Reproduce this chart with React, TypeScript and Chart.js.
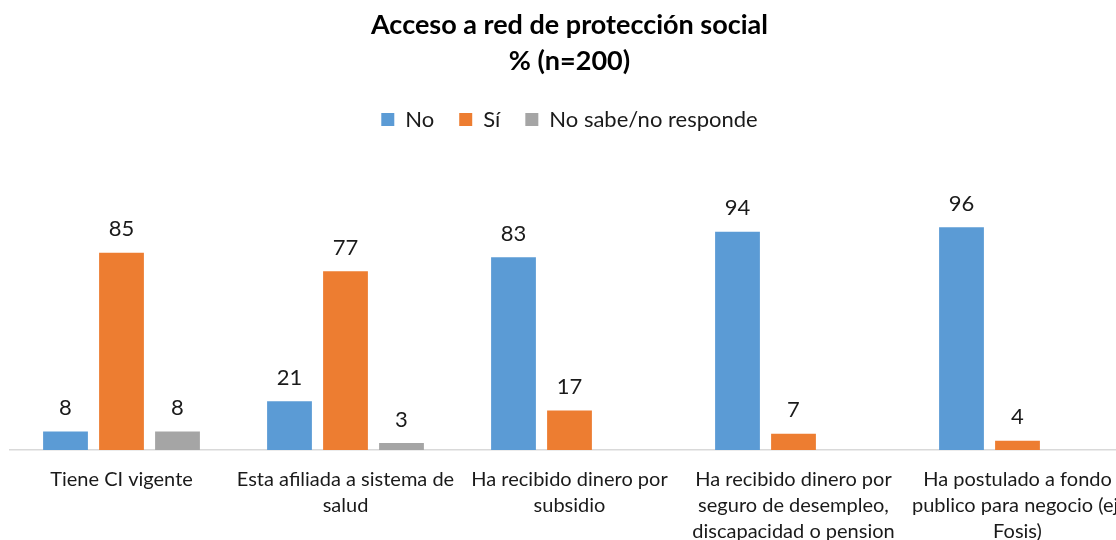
import React, { useEffect, useRef } from "react";
import { Chart, registerables } from "chart.js";

Chart.register(...registerables);

const titleLines = ["Acceso a red de protección social", "% (n=200)"];
const categories = [
  ["Tiene CI vigente"],
  ["Esta afiliada a sistema de", "salud"],
  ["Ha recibido dinero por", "subsidio"],
  ["Ha recibido dinero por", "seguro de desempleo,", "discapacidad o pension"],
  ["Ha postulado a fondo", "publico para negocio (ej.", "Fosis)"],
];
const seriesNames = ["No", "Sí", "No sabe/no responde"];
const noValues = [8, 21, 83, 94, 96];
const siValues = [85, 77, 17, 7, 4];
const nsnrValues: (number | null)[] = [8, 3, null, null, null];
const seriesColors = ["#5B9BD5", "#ED7D31", "#A5A5A5"];

const FONT = "Lato, 'Open Sans', sans-serif";
const TEXT = "#1a1a1a";

const CANVAS_W = 1160;
const CANVAS_H = 562;
const LEGEND_H = 88;

const valueLabels = {
  id: "valueLabels",
  afterDatasetsDraw(chart: any) {
    const ctx = chart.ctx;
    ctx.save();
    ctx.font = `22px ${FONT}`;
    ctx.fillStyle = TEXT;
    ctx.textAlign = "center";
    ctx.textBaseline = "alphabetic";
    chart.data.datasets.forEach((ds: any, i: number) => {
      const meta = chart.getDatasetMeta(i);
      if (meta.hidden) return;
      meta.data.forEach((bar: any, j: number) => {
        const v = ds.data[j];
        if (v == null) return;
        ctx.fillText(String(v), bar.x, bar.y - 16.5);
      });
    });
    ctx.restore();
  },
};

const legendSpacer = {
  id: "legendSpacer",
  beforeInit(chart: any) {
    const legend = chart.legend;
    if (!legend) return;
    const origFit = legend.fit;
    legend.fit = function () {
      origFit.call(legend);
      legend.height = LEGEND_H;
    };
  },
};

export default function App() {
  const ref = useRef<HTMLCanvasElement | null>(null);
  useEffect(() => {
    if (!ref.current) return;
    const chart = new Chart(ref.current, {
      type: "bar",
      data: {
        labels: categories,
        datasets: [
          { label: seriesNames[0], data: noValues, backgroundColor: seriesColors[0] },
          { label: seriesNames[1], data: siValues, backgroundColor: seriesColors[1] },
          { label: seriesNames[2], data: nsnrValues, backgroundColor: seriesColors[2] },
        ],
      },
      options: {
        responsive: false,
        animation: false,
        devicePixelRatio: 1,
        layout: { padding: { left: 9.5, right: 30.5, top: 0, bottom: 0 } },
        datasets: {
          bar: { categoryPercentage: 0.75, barPercentage: 0.8 },
        },
        plugins: {
          title: {
            display: true,
            text: titleLines,
            color: "#000",
            font: { family: FONT, size: 27, weight: "bold", lineHeight: 36 / 27 },
            padding: { top: 7, bottom: 4.5 },
          },
          legend: {
            display: true,
            position: "top",
            labels: {
              color: TEXT,
              font: { family: FONT, size: 22 },
              boxWidth: 13,
              boxHeight: 13,
              padding: 25,
            },
          },
          tooltip: { enabled: false },
        },
        scales: {
          x: {
            grid: { display: false, drawTicks: false },
            border: { display: true, color: "#D9D9D9", width: 1.5 },
            ticks: {
              color: TEXT,
              font: { family: FONT, size: 20, lineHeight: 1.3 },
              padding: 17,
              maxRotation: 0,
              minRotation: 0,
              autoSkip: false,
            },
          },
          y: {
            display: false,
            min: 0,
            max: 120,
          },
        },
      },
      plugins: [valueLabels, legendSpacer],
    });
    return () => chart.destroy();
  }, []);
  return (
    <div
      style={{
        position: "fixed",
        left: 0,
        top: 0,
        width: 1116,
        height: 540,
        overflow: "hidden",
        background: "#fff",
      }}
    >
      <canvas ref={ref} width={CANVAS_W} height={CANVAS_H} style={{ display: "block" }} />
    </div>
  );
}
